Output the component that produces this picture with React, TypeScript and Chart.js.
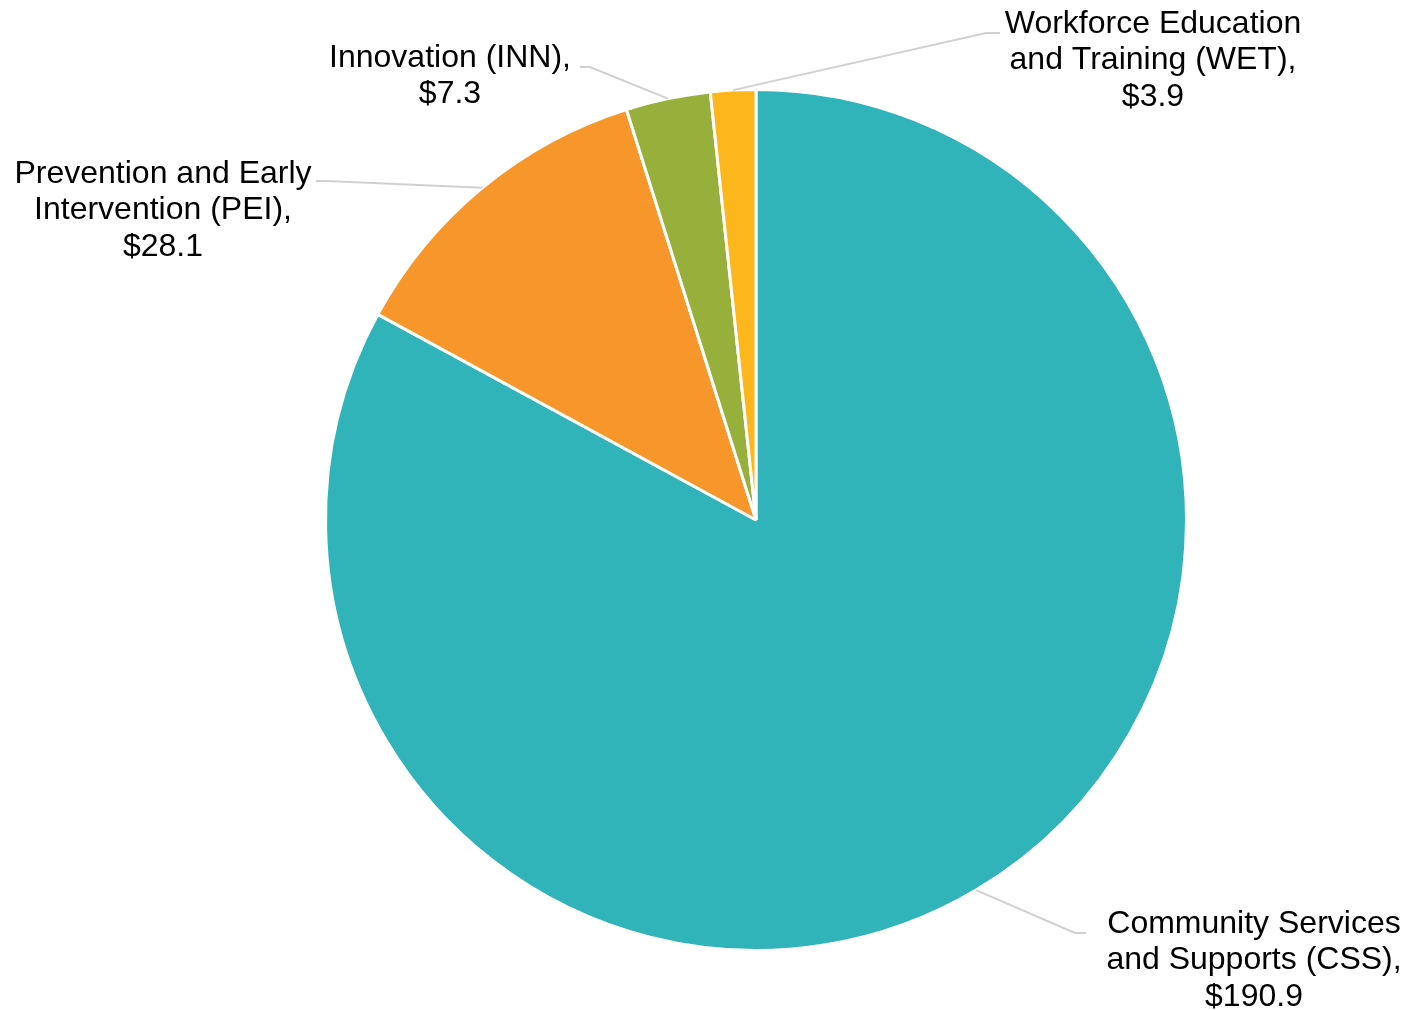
import React, { useEffect, useRef } from "react";
import { Chart, registerables } from "chart.js";

Chart.register(...registerables);

const categories = [
  "Community Services and Supports (CSS)",
  "Prevention and Early Intervention (PEI)",
  "Innovation (INN)",
  "Workforce Education and Training (WET)",
];
const values = [190.9, 28.1, 7.3, 3.9];
const colors = ["#31B3BA", "#F7962A", "#97B03B", "#FDB71C"];
// Label text lines, as shown in the chart
const labelLines = [
  ["Community Services", "and Supports (CSS),", "$190.9"],
  ["Prevention and Early", "Intervention (PEI),", "$28.1"],
  ["Innovation (INN),", "$7.3"],
  ["Workforce Education", "and Training (WET),", "$3.9"],
];

// Label placement (layout only): text centre x, first line centre y, elbow, end of leader
const labelLayout = [
  { cx: 1254, y0: 924, elbow: [1075, 933], end: [1086, 933] },
  { cx: 163, y0: 174, elbow: [326, 181], end: [316, 181] },
  { cx: 450, y0: 58, elbow: [590, 67], end: [580, 67] },
  { cx: 1153, y0: 24, elbow: [986, 33], end: [1000, 33] },
];
const LINE_H = 36.5;

const leaderPlugin = {
  id: "leaderLabels",
  afterDraw(chart: any) {
    const ctx = chart.ctx;
    const meta = chart.getDatasetMeta(0);
    ctx.save();
    meta.data.forEach((arc: any, i: number) => {
      const p = arc.getProps(["x", "y", "startAngle", "endAngle", "outerRadius"], true);
      const mid = (p.startAngle + p.endAngle) / 2;
      const sx = p.x + Math.cos(mid) * p.outerRadius;
      const sy = p.y + Math.sin(mid) * p.outerRadius;
      const L = labelLayout[i];
      ctx.strokeStyle = "#D0D0D0";
      ctx.lineWidth = 2;
      ctx.beginPath();
      ctx.moveTo(sx, sy);
      ctx.lineTo(L.elbow[0], L.elbow[1]);
      ctx.lineTo(L.end[0], L.end[1]);
      ctx.stroke();
      ctx.fillStyle = "#000000";
      ctx.font = '32px "Liberation Sans", Arial, sans-serif';
      ctx.textAlign = "center";
      ctx.textBaseline = "middle";
      labelLines[i].forEach((t, k) => {
        ctx.fillText(t, L.cx, L.y0 + k * LINE_H);
      });
    });
    ctx.restore();
  },
};

export default function App() {
  const ref = useRef<HTMLCanvasElement | null>(null);
  useEffect(() => {
    if (!ref.current) return;
    const chart = new Chart(ref.current, {
      type: "pie",
      data: {
        labels: categories,
        datasets: [
          {
            data: values,
            backgroundColor: colors,
            borderColor: "#FFFFFF",
            borderWidth: 3,
          },
        ],
      },
      options: {
        responsive: false,
        animation: false,
        layout: { padding: { left: 324, right: 218, top: 88, bottom: 58 } },
        plugins: {
          legend: { display: false },
          tooltip: { enabled: false },
        },
      },
      plugins: [leaderPlugin],
    });
    return () => chart.destroy();
  }, []);
  return (
    <div style={{ position: "fixed", left: 0, top: 0, width: 1406, height: 1010, background: "#fff" }}>
      <canvas ref={ref} width={1406} height={1010} />
    </div>
  );
}
